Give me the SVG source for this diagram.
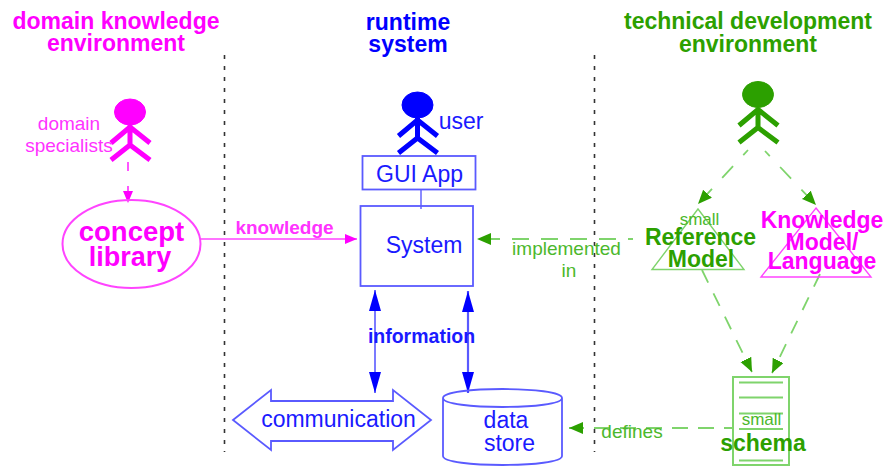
<svg xmlns="http://www.w3.org/2000/svg" width="883" height="467" viewBox="0 0 883 467">
<style>
text{font-family:"Liberation Sans",Arial,sans-serif;text-anchor:middle}
.b{font-weight:bold}
.m{fill:#ff00ff}.bl{fill:#1a1aff}.g{fill:#2ca000}.gl{fill:#4cb82c}.ml{fill:#ff33ff}
.s{fill:none;stroke-width:1.4}
.sm{stroke:#ff44ff}.sb{stroke:#5a5aff}.sg{stroke:#7fd46c}
.d{stroke-width:1.800}
.a{fill:none;stroke-width:5}
.t{font-size:23px}.n{font-size:19px}.h{font-size:23px}.l{font-size:17px}
</style>
<defs>
<marker id="am" markerWidth="12" markerHeight="12" refX="12" refY="5" orient="auto" markerUnits="userSpaceOnUse"><path d="M0 0L12 5L0 10Z" fill="#ff00ff"/></marker>
<marker id="ag" markerWidth="15" markerHeight="14" refX="14" refY="6" orient="auto" markerUnits="userSpaceOnUse"><path d="M0 0L14 6L0 12Z" fill="#2ca000"/></marker>
<marker id="ab" markerWidth="22" markerHeight="14" refX="21" refY="6" orient="auto-start-reverse" markerUnits="userSpaceOnUse"><path d="M0 0L21 6L0 12Z" fill="#0000ff"/></marker>
<g id="actor"><ellipse cx="0" cy="0" rx="15.5" ry="13"/><path class="a" d="M0 13V33M-19 31L0 15L20 31M-19 48L0 33L20 48" stroke-linejoin="miter"/></g>
</defs>
<g id="separators" fill="none" stroke="#333" stroke-width="1.6" stroke-dasharray="4 7">
<path d="M224.500 55V452"/><path d="M594.500 55V452"/>
</g>
<g id="connectors">
<path class="s sm" d="M201 239H357" marker-end="url(#am)"/>
<path class="s sm d" style="stroke-dasharray:9 15" d="M128 162V203" marker-end="url(#am)"/>
<path class="s sb" d="M421 189V209"/>
<path class="s sb" style="stroke-width:1.600" d="M375 290V393" marker-start="url(#ab)" marker-end="url(#ab)"/>
<path class="s sb" style="stroke-width:2.200" d="M468 291V393" marker-start="url(#ab)" marker-end="url(#ab)"/>
<path class="s sg d" style="stroke-dasharray:17 12;stroke-dashoffset:12" d="M633 239H477" marker-end="url(#ag)"/>
<path class="s sg d" style="stroke-dasharray:16 15;stroke-dashoffset:9" d="M748 150L698 204" marker-end="url(#ag)"/>
<path class="s sg d" style="stroke-dasharray:16 15;stroke-dashoffset:9" d="M765 151L816 205" marker-end="url(#ag)"/>
<path class="s sg d" style="stroke-dasharray:14 12" d="M702 270L752 372" marker-end="url(#ag)"/>
<path class="s sg d" style="stroke-dasharray:14 12" d="M820 274L772 373" marker-end="url(#ag)"/>
<path class="s sg d" style="stroke-dasharray:16 10;stroke-dashoffset:7" d="M733 428H569" marker-end="url(#ag)"/>
</g>
<g id="title-domain"><text class="b m t" x="116" y="29">domain knowledge</text><text class="b m t" x="116" y="51">environment</text></g>
<g id="title-runtime"><text class="b t" x="408" y="30" fill="#0000ff">runtime</text><text class="b t" x="408" y="52" fill="#0000ff">system</text></g>
<g id="title-technical"><text class="b g t" x="748" y="29">technical development</text><text class="b g t" x="748" y="52">environment</text></g>
<g id="domain-specialists" fill="#ff00ff">
<use href="#actor" x="130" y="112" stroke="#ff00ff"/>
<text class="ml n" x="69" y="130">domain</text><text class="ml n" x="69" y="152">specialists</text>
</g>
<g id="concept-library">
<ellipse class="s sm" style="stroke-width:2" cx="131.500" cy="244" rx="69" ry="44"/>
<text class="b m" x="131.500" y="241" font-size="27.500">concept</text><text class="b m" x="130" y="266" font-size="27">library</text>
</g>
<g id="knowledge-label"><text class="b ml n" x="284.500" y="234">knowledge</text></g>
<g id="user" fill="#0000ff">
<use href="#actor" x="417.500" y="105" stroke="#0000ff"/>
<text class="bl h" x="461" y="129">user</text>
</g>
<g id="gui-app"><rect class="s sb" style="stroke-width:1.800" x="362.500" y="156" width="113" height="33.500"/><text class="bl h" x="419.500" y="182">GUI App</text></g>
<g id="system"><rect class="s sb" style="stroke-width:1.800" x="360.500" y="206" width="112.500" height="80"/><text class="bl h" x="424" y="253">System</text></g>
<g id="information-label"><text class="b bl n" x="421.500" y="343" style="font-size:19.500px">information</text></g>
<g id="communication">
<path class="s sb" style="stroke-width:1.800" d="M233 420L271 390V401H393V390L431 420L393 450V441H271V450Z"/>
<text class="bl h" x="338.500" y="427">communication</text>
</g>
<g id="data-store">
<path class="s sb" style="stroke-width:1.800" d="M443 398C443 386 562 386 562 398C562 410 443 410 443 398V456C443 468 562 468 562 456V398"/>
<text class="bl h" x="506" y="428">data</text><text class="bl h" x="509.500" y="451">store</text>
</g>
<g id="implemented-label"><text class="gl n" x="566.500" y="255">implemented</text><text class="gl n" x="569" y="277">in</text></g>
<g id="developer" fill="#2ca000"><use href="#actor" x="758" y="94.500" stroke="#2ca000"/></g>
<g id="reference-model">
<path class="s sg" d="M698 209L744 269.500H652Z"/>
<text class="gl l" x="699.500" y="225">small</text>
<text class="b g h" x="700.500" y="245">Reference</text><text class="b g h" x="701" y="267">Model</text>
</g>
<g id="knowledge-model">
<path class="s sm" d="M816 208L871 277H761Z"/>
<text class="b m h" x="822" y="228">Knowledge</text><text class="b m h" x="822" y="250">Model/</text><text class="b m h" x="822" y="269">Language</text>
</g>
<g id="schema">
<rect class="s sg" style="stroke-width:2" x="733" y="377" width="56" height="88"/>
<path class="s sg" style="stroke-width:2" d="M739 382.500H783M739 397.500H783M739 413.500H783M739 429H783M739 460.500H783"/>
<text class="gl l" x="761.500" y="425">small</text>
<text class="b g h" x="763" y="451">schema</text>
</g>
<g id="defines-label"><text class="gl n" x="632" y="438">defines</text></g>
</svg>
